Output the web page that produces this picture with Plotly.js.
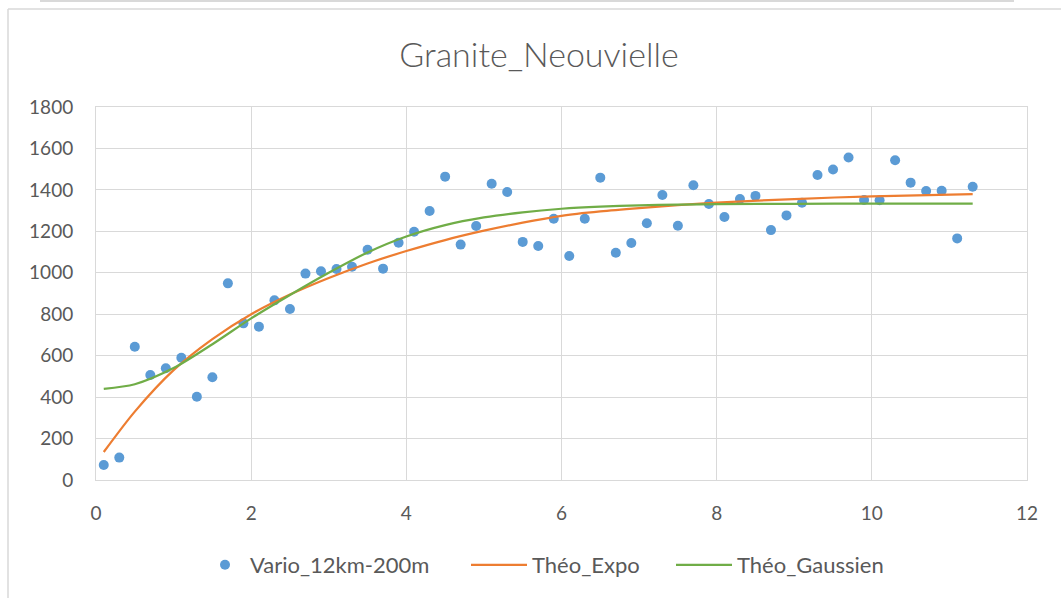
<!DOCTYPE html>
<html>
<head>
<meta charset="utf-8">
<script src="https://cdn.plot.ly/plotly-3.0.1.min.js"></script>
<style>
html,body{margin:0;padding:0;background:#fff;}
#chart{width:1061px;height:598px;}
</style>
</head>
<body>
<div id="chart"></div>
<script>
// Experimental variogram points
const lagX = [0.1,0.3,0.5,0.7,0.9,1.1,1.3,1.5,1.7,1.9,2.1,2.3,2.5,2.7,2.9,3.1,3.3,3.5,3.7,3.9,
  4.1,4.3,4.5,4.7,4.9,5.1,5.3,5.5,5.7,5.9,6.1,6.3,6.5,6.7,6.9,7.1,7.3,7.5,7.7,7.9,
  8.1,8.3,8.5,8.7,8.9,9.1,9.3,9.5,9.7,9.9,10.1,10.3,10.5,10.7,10.9,11.1,11.3];
const varioY = [72,108,643,507,539,590,402,496,949,756,740,867,825,996,1007,1018,1029,1111,1020,1145,
  1198,1298,1464,1136,1226,1430,1390,1149,1129,1261,1081,1261,1459,1097,1144,1239,1375,1227,1422,1332,
  1269,1356,1371,1206,1277,1338,1472,1498,1556,1351,1350,1543,1435,1395,1396,1166,1415];

// Theoretical models
const modelX = [0.1,0.5,1,1.5,2,2.5,3,3.5,4,4.5,5,5.5,6,6.5,7,7.5,8,9,10,11.3];
const expoY  = [135,330,530,680,800,895,975,1045,1105,1158,1203,1242,1275,1296,1312,1326,1338,1356,1369,1380];
const gaussY = [440,462,540,655,780,893,1000,1098,1175,1230,1267,1292,1309,1319,1325,1329,1331,1333,1334,1334];

const names = ['Vario_12km-200m','Théo_Expo','Théo_Gaussien'];
const xTicks = [0,2,4,6,8,10,12];
const yTicks = [0,200,400,600,800,1000,1200,1400,1600,1800];

const FONT = 'Lato, "Open Sans", sans-serif';
const TXT = '#595959';
const GRID = '#D9D9D9';

const traces = [
  {x: lagX, y: varioY, type:'scatter', mode:'markers', name:names[0],
   marker:{color:'#5B9BD5', size:10}, legend:'legend'},
  {x: modelX, y: expoY, type:'scatter', mode:'lines', name:names[1],
   line:{color:'#ED7D31', width:2.25, shape:'spline', smoothing:0.8}, legend:'legend2'},
  {x: modelX, y: gaussY, type:'scatter', mode:'lines', name:names[2],
   line:{color:'#70AD47', width:2.25, shape:'spline', smoothing:0.8}, legend:'legend3'}
];

const L = 96, R = 1027, T = 107, B = 480;
const px = v => (v - L) / (R - L);
const py = v => (B - v) / (B - T);

const legBase = {orientation:'h', yanchor:'middle', xanchor:'left',
  font:{family:FONT, size:22, color:TXT}, bgcolor:'rgba(0,0,0,0)', borderwidth:0};

const layout = {
  width:1061, height:598,
  margin:{l:L, r:1061-R, t:T, b:598-B},
  paper_bgcolor:'#ffffff', plot_bgcolor:'#ffffff',
  font:{family:FONT, color:TXT},
  title:{text:'Granite_Neouvielle', font:{family:FONT, size:34, color:TXT, weight:300},
    x:0.508, xanchor:'center', y:1-55/598, yanchor:'middle'},
  xaxis:{range:[0,12], tickvals:xTicks, ticktext:xTicks.map(String),
    showgrid:true, gridcolor:GRID, gridwidth:1, zeroline:false,
    showline:true, linecolor:GRID, linewidth:1, mirror:true,
    ticks:'', ticklabelstandoff:16, tickfont:{family:FONT, size:19, color:TXT}, fixedrange:true},
  yaxis:{range:[0,1800], tickvals:yTicks, ticktext:yTicks.map(String),
    showgrid:true, gridcolor:GRID, gridwidth:1, zeroline:false,
    showline:true, linecolor:GRID, linewidth:1, mirror:true,
    ticks:'', ticklabelstandoff:18, tickfont:{family:FONT, size:19, color:TXT}, fixedrange:true},
  legend:Object.assign({}, legBase, {x:px(200), y:py(565), itemwidth:40}),
  legend2:Object.assign({}, legBase, {x:px(466), y:py(565), itemwidth:56}),
  legend3:Object.assign({}, legBase, {x:px(671), y:py(565), itemwidth:56}),
  shapes:[
    {type:'line', xref:'paper', yref:'paper', x0:px(8), x1:px(8), y0:py(9), y1:py(605),
     line:{color:GRID, width:1.5}},
    {type:'line', xref:'paper', yref:'paper', x0:px(8), x1:px(1070), y0:py(9), y1:py(9),
     line:{color:GRID, width:1.5}},
    {type:'line', xref:'paper', yref:'paper', x0:px(40), x1:px(1014), y0:py(1), y1:py(1),
     line:{color:GRID, width:2}}
  ],
  showlegend:true
};

Plotly.newPlot('chart', traces, layout, {displayModeBar:false, staticPlot:true});
</script>
</body>
</html>
